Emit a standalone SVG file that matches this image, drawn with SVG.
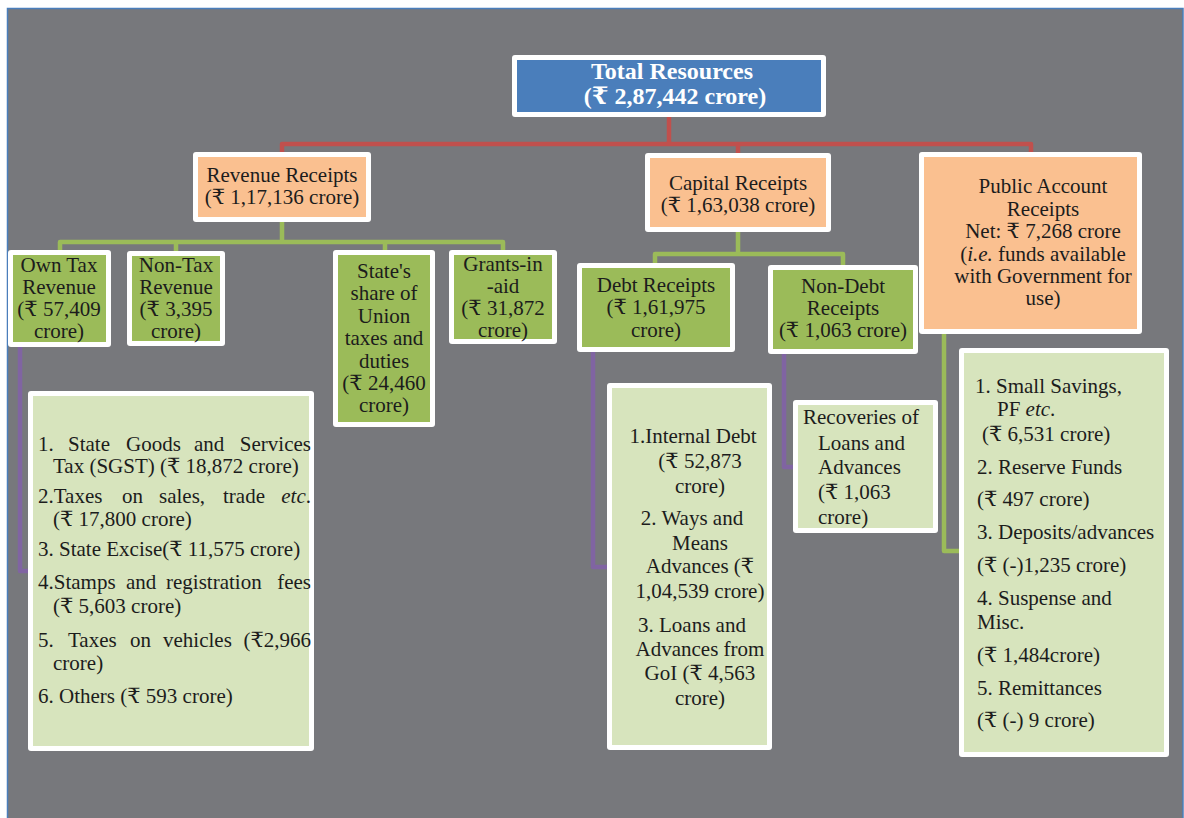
<svg xmlns="http://www.w3.org/2000/svg" width="1184" height="818" viewBox="0 0 1184 818">
<style>
.t{font-family:"Liberation Serif","DejaVu Serif",serif;font-size:21px;fill:#1c1c1c}
.c{text-anchor:middle}
.e{text-anchor:end}
.w{fill:#ffffff}
.blue{fill:#4a7ebb}
.or{fill:#fac090}
.gr{fill:#9bbb59}
.lg{fill:#d7e4bd}
.conn{fill:none;stroke-width:4.5;stroke-linejoin:round;stroke-linecap:butt}
.red{stroke:#c0504d}
.grn{stroke:#9bbb59}
.pur{stroke:#8064a2}
</style>
<rect x="0" y="0" width="1184" height="818" fill="#ffffff"/>
<rect x="7.5" y="8.5" width="1175.5" height="830" fill="#77787c" stroke="#4a7ebb" stroke-width="1.5"/>

<g id="connectors">
  <path class="conn red" d="M669,117 V144 M282,153 V144 H1031 V153 M738,144 V153"/>
  <path class="conn grn" d="M282,222 V242 M60,250 V242 H503 V250 M176,242 V251 M385,242 V250"/>
  <path class="conn grn" d="M738,232 V254 M655,263 V254 H843 V266"/>
  <path class="conn pur" d="M20,347 V571 H33"/>
  <path class="conn pur" d="M593,352 V567 H607"/>
  <path class="conn pur" d="M784,354 V467 H795"/>
  <path class="conn grn" d="M944,334 V551 H959"/>
</g>

<g id="total">
  <rect class="w" x="512" y="55" width="314" height="62" rx="3"/>
  <rect class="blue" x="517" y="60" width="304" height="52"/>
  <text class="t c" x="672" y="79" style="font-size:24px;font-weight:bold;fill:#ffffff">Total Resources</text>
  <text class="t c" x="675" y="104" style="font-size:24px;font-weight:bold;fill:#ffffff">(₹ 2,87,442 crore)</text>
</g>

<g id="revenue">
  <rect class="w" x="193" y="152" width="178" height="70" rx="3"/>
  <rect class="or" x="198" y="157" width="168" height="60"/>
  <text class="t c" x="282" y="182">Revenue Receipts</text>
  <text class="t c" x="282" y="204">(₹ 1,17,136 crore)</text>
</g>

<g id="capital">
  <rect class="w" x="645" y="153" width="186" height="79" rx="3"/>
  <rect class="or" x="650" y="158" width="176" height="69"/>
  <text class="t c" x="738" y="190">Capital Receipts</text>
  <text class="t c" x="738" y="212">(₹ 1,63,038 crore)</text>
</g>

<g id="public">
  <rect class="w" x="919" y="152" width="223" height="182" rx="3"/>
  <rect class="or" x="924" y="157" width="213" height="172"/>
  <text class="t c" x="1043" y="193">Public Account</text>
  <text class="t c" x="1043" y="216">Receipts</text>
  <text class="t c" x="1043" y="238">Net: ₹ 7,268 crore</text>
  <text class="t c" x="1043" y="261">(<tspan font-style="italic">i.e.</tspan> funds available</text>
  <text class="t c" x="1043" y="283">with Government for</text>
  <text class="t c" x="1043" y="305">use)</text>
</g>

<g id="owntax">
  <rect class="w" x="8" y="250" width="103" height="97" rx="3"/>
  <rect class="gr" x="13" y="255" width="93" height="87"/>
  <text class="t c" x="59" y="272">Own Tax</text>
  <text class="t c" x="59" y="294">Revenue</text>
  <text class="t c" x="59" y="316">(₹ 57,409</text>
  <text class="t c" x="59" y="338">crore)</text>
</g>

<g id="nontax">
  <rect class="w" x="127" y="251" width="98" height="95" rx="3"/>
  <rect class="gr" x="132" y="256" width="88" height="85"/>
  <text class="t c" x="176" y="272">Non-Tax</text>
  <text class="t c" x="176" y="294">Revenue</text>
  <text class="t c" x="176" y="316">(₹ 3,395</text>
  <text class="t c" x="176" y="338">crore)</text>
</g>

<g id="stateshare">
  <rect class="w" x="333" y="250" width="102" height="177" rx="3"/>
  <rect class="gr" x="338" y="255" width="92" height="167"/>
  <text class="t c" x="384" y="278">State's</text>
  <text class="t c" x="384" y="300">share of</text>
  <text class="t c" x="384" y="323">Union</text>
  <text class="t c" x="384" y="345">taxes and</text>
  <text class="t c" x="384" y="368">duties</text>
  <text class="t c" x="384" y="390">(₹ 24,460</text>
  <text class="t c" x="384" y="412">crore)</text>
</g>

<g id="grants">
  <rect class="w" x="449" y="250" width="108" height="94" rx="3"/>
  <rect class="gr" x="454" y="255" width="98" height="84"/>
  <text class="t c" x="503" y="271">Grants-in</text>
  <text class="t c" x="503" y="293">-aid</text>
  <text class="t c" x="503" y="315">(₹ 31,872</text>
  <text class="t c" x="503" y="337">crore)</text>
</g>

<g id="debt">
  <rect class="w" x="577" y="263" width="158" height="89" rx="3"/>
  <rect class="gr" x="582" y="268" width="148" height="79"/>
  <text class="t c" x="656" y="292">Debt Receipts</text>
  <text class="t c" x="656" y="314">(₹ 1,61,975</text>
  <text class="t c" x="656" y="337">crore)</text>
</g>

<g id="nondebt">
  <rect class="w" x="768" y="265" width="150" height="89" rx="3"/>
  <rect class="gr" x="773" y="270" width="140" height="79"/>
  <text class="t c" x="843" y="293">Non-Debt</text>
  <text class="t c" x="843" y="315">Receipts</text>
  <text class="t c" x="843" y="337">(₹ 1,063 crore)</text>
</g>

<g id="owntax-detail">
  <rect class="w" x="28" y="391" width="286" height="360" rx="3"/>
  <rect class="lg" x="33" y="396" width="276" height="350"/>
  <text class="t" y="451"><tspan x="38">1.</tspan><tspan x="68">State</tspan><tspan x="126">Goods</tspan><tspan x="194">and</tspan></text>
  <text class="t e" x="311" y="451">Services</text>
  <text class="t" x="53" y="473">Tax (SGST) (₹ 18,872 crore)</text>
  <text class="t" y="503"><tspan x="38">2.Taxes</tspan><tspan x="122">on</tspan><tspan x="159">sales,</tspan><tspan x="223">trade</tspan></text>
  <text class="t e" x="311" y="503"><tspan font-style="italic">etc</tspan>.</text>
  <text class="t" x="53" y="526">(₹ 17,800  crore)</text>
  <text class="t" x="38" y="556">3. State Excise(₹ 11,575 crore)</text>
  <text class="t" y="589"><tspan x="38">4.Stamps</tspan><tspan x="126">and</tspan><tspan x="166">registration</tspan></text>
  <text class="t e" x="311" y="589">fees</text>
  <text class="t" x="53" y="613">(₹ 5,603 crore)</text>
  <text class="t" y="647"><tspan x="38">5.</tspan><tspan x="68">Taxes</tspan><tspan x="130">on</tspan><tspan x="163">vehicles</tspan></text>
  <text class="t e" x="311" y="647">(₹2,966</text>
  <text class="t" x="53" y="670">crore)</text>
  <text class="t" x="38" y="703">6. Others (₹ 593 crore)</text>
</g>

<g id="debt-detail">
  <rect class="w" x="607" y="383" width="165" height="367" rx="3"/>
  <rect class="lg" x="612" y="388" width="155" height="357"/>
  <text class="t c" x="693" y="443">1.Internal Debt</text>
  <text class="t c" x="700" y="468">(₹ 52,873</text>
  <text class="t c" x="700" y="493">crore)</text>
  <text class="t c" x="692" y="525">2. Ways and</text>
  <text class="t c" x="700" y="550">Means</text>
  <text class="t c" x="700" y="573">Advances (₹</text>
  <text class="t c" x="700" y="598">1,04,539 crore)</text>
  <text class="t c" x="692" y="632">3. Loans and</text>
  <text class="t c" x="700" y="656">Advances from</text>
  <text class="t c" x="700" y="680">GoI (₹ 4,563</text>
  <text class="t c" x="700" y="705">crore)</text>
</g>

<g id="nondebt-detail">
  <rect class="w" x="793" y="400" width="145" height="133" rx="3"/>
  <rect class="lg" x="798" y="405" width="135" height="123"/>
  <text class="t" x="803" y="424">Recoveries of</text>
  <text class="t" x="818" y="450">Loans and</text>
  <text class="t" x="818" y="474">Advances</text>
  <text class="t" x="818" y="499">(₹ 1,063</text>
  <text class="t" x="818" y="524">crore)</text>
</g>

<g id="public-detail">
  <rect class="w" x="959" y="348" width="210" height="409" rx="3"/>
  <rect class="lg" x="964" y="353" width="200" height="399"/>
  <text class="t" x="975" y="393">1. Small Savings,</text>
  <text class="t" x="997" y="416">PF <tspan font-style="italic">etc</tspan>.</text>
  <text class="t" x="982" y="441">(₹ 6,531 crore)</text>
  <text class="t" x="977" y="474">2. Reserve Funds</text>
  <text class="t" x="977" y="506">(₹ 497 crore)</text>
  <text class="t" x="977" y="539">3. Deposits/advances</text>
  <text class="t" x="977" y="572">(₹ (-)1,235 crore)</text>
  <text class="t" x="977" y="605">4. Suspense and</text>
  <text class="t" x="977" y="629">Misc.</text>
  <text class="t" x="977" y="662">(₹ 1,484crore)</text>
  <text class="t" x="977" y="695">5. Remittances</text>
  <text class="t" x="977" y="727">(₹ (-) 9 crore)</text>
</g>
</svg>
